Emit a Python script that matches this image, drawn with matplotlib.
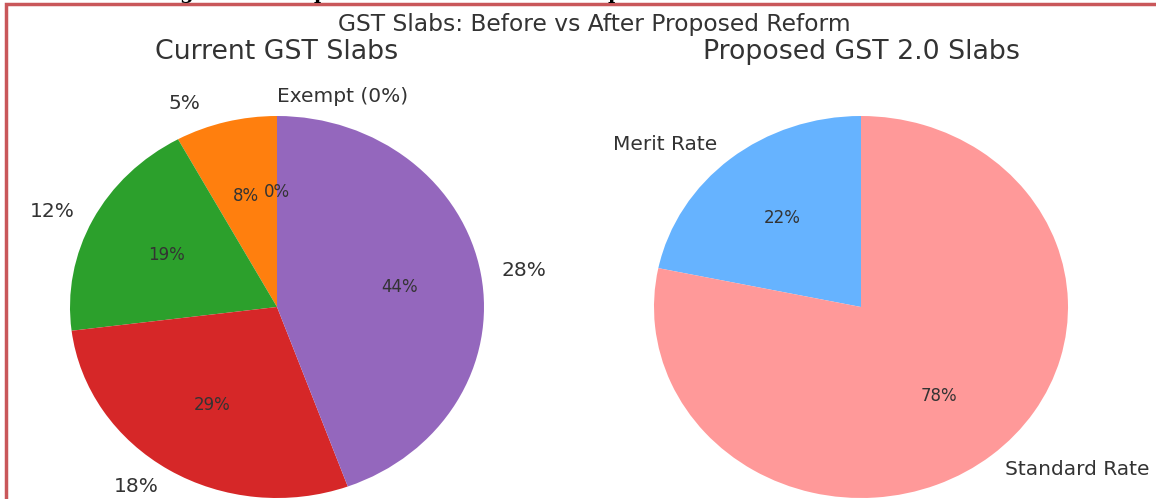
import matplotlib
matplotlib.use("Agg")
import matplotlib.pyplot as plt
from matplotlib.patches import Rectangle

# current slabs (share of items by rate)
current_labels = ["Exempt (0%)", "5%", "12%", "18%", "28%"]
current_values = [0, 5, 12, 18, 28]
current_colors = ["tab:blue", "tab:orange", "tab:green", "tab:red", "tab:purple"]

# proposed GST 2.0
proposed_labels = ["Merit Rate", "Standard Rate"]
proposed_values = [5, 18]
proposed_colors = ["#66b3ff", "#ff9999"]

W, H = 1156, 499
fig = plt.figure(figsize=(W / 100, H / 100), dpi=100)
txt = "#333333"

# pie radius in pixels (source image is stretched sideways a bit)
rx, ry = 207, 191


def place(cx, cy):
    w = 2.5 * rx
    h = 2.5 * ry
    return [(cx - w / 2) / W, (H - cy - h / 2) / H, w / W, h / H]


ax1 = fig.add_axes(place(277, 307))
w1, l1, p1 = ax1.pie(current_values, labels=current_labels, colors=current_colors,
                     autopct="%1.0f%%", startangle=90,
                     textprops={"fontsize": 14.5, "color": txt})
for t in p1:
    t.set_fontsize(12)
l1[0].set_ha("left")
x5, y5 = l1[1].get_position()
l1[1].set_position((x5 - 0.1, y5))
ax1.set_aspect("auto")
ax1.set_xlim(-1.25, 1.25)
ax1.set_ylim(-1.25, 1.25)

ax2 = fig.add_axes(place(861, 307))
w2, l2, p2 = ax2.pie(proposed_values, labels=proposed_labels, colors=proposed_colors,
                     autopct="%1.0f%%", startangle=90,
                     textprops={"fontsize": 14.5, "color": txt})
for t in p2:
    t.set_fontsize(12)
ax2.set_aspect("auto")
ax2.set_xlim(-1.25, 1.25)
ax2.set_ylim(-1.25, 1.25)

fig.text(277 / W, 1 - 52 / H, "Current GST Slabs", ha="center", va="center",
         fontsize=19.3, color=txt)
fig.text(861 / W, 1 - 52 / H, "Proposed GST 2.0 Slabs", ha="center", va="center",
         fontsize=19.3, color=txt)
fig.text(594 / W, 1 - 25 / H, "GST Slabs: Before vs After Proposed Reform",
         ha="center", va="center", fontsize=16.8, color=txt)

# document frame and clipped caption from the page
fig.add_artist(Rectangle((6 / W, -0.1), 1.2, 1 - 4 / H + 0.1, transform=fig.transFigure,
                         fill=False, edgecolor="#c9575a", linewidth=2.5))
fig.text(530 / W, 1 + 6 / H, "Figure 3: Comparison of Current and Proposed GST Slab Structures",
         ha="center", va="center", fontsize=14, fontweight="bold",
         family="DejaVu Serif", color="black")

fig.savefig("out.png", dpi=100)
